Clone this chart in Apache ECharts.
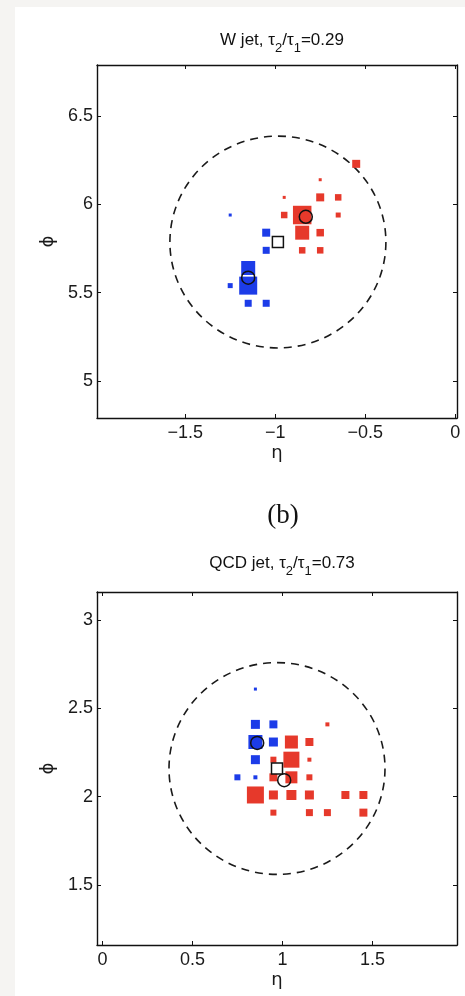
<!DOCTYPE html>
<html>
<head>
<meta charset="utf-8">
<script src="https://cdn.jsdelivr.net/npm/echarts@6/dist/echarts.min.js"></script>
<style>
body { margin: 0; }
#main { width: 465px; height: 996px; }
</style>
</head>
<body>
<div id="main"></div>
<script>
// W jet (top panel)
var wRedEta = [-0.55, -0.75, -0.75, -0.65, -0.95, -0.85, -0.95, -0.65, -0.85, -0.75, -0.85, -0.75];
var wRedPhi = [6.23, 6.14, 6.04, 6.04, 6.04, 5.94, 5.94, 5.94, 5.84, 5.84, 5.74, 5.74];
var wRedPt  = [16, 6, 16, 13, 6, 37, 13, 10, 28, 15, 13, 13];
var wBlueEta = [-1.25, -1.05, -1.05, -1.15, -1.15, -1.25, -1.15, -1.05];
var wBluePhi = [5.94, 5.84, 5.74, 5.64, 5.54, 5.54, 5.44, 5.44];
var wBluePt  = [6, 16, 14, 28, 36, 10, 14, 14];
var wSubEta = [-0.83, -1.15];
var wSubPhi = [5.93, 5.585];
var wJetEta = [-0.985];
var wJetPhi = [5.787];

// QCD jet (bottom panel)
var qRedEta = [1.25, 1.05, 1.15, 1.05, 0.95, 1.15, 1.05, 0.95, 1.15, 0.85, 0.95, 1.05, 1.15, 1.35, 1.45, 0.95, 1.15, 1.25, 1.45];
var qRedPhi = [2.41, 2.31, 2.31, 2.21, 2.21, 2.21, 2.11, 2.11, 2.11, 2.01, 2.01, 2.01, 2.01, 2.01, 2.01, 1.91, 1.91, 1.91, 1.91];
var qRedPt  = [8, 26, 16, 32, 12, 8, 24, 16, 12, 34, 18, 20, 18, 16, 16, 12, 14, 14, 16];
var qBlueEta = [0.85, 0.85, 0.95, 0.85, 0.95, 0.85, 0.75, 0.85];
var qBluePhi = [2.61, 2.41, 2.41, 2.31, 2.31, 2.21, 2.11, 2.11];
var qBluePt  = [6, 18, 16, 28, 18, 18, 12, 8];
var qSubEta = [0.86, 1.01];
var qSubPhi = [2.305, 2.094];
var qJetEta = [0.97];
var qJetPhi = [2.16];

var jetR = 0.6;
var wTicksX = [-1.5, -1, -0.5, 0];
var wTicksY = [5, 5.5, 6, 6.5];
var qTicksX = [0, 0.5, 1, 1.5];
var qTicksY = [1.5, 2, 2.5, 3];

var dom = document.getElementById("main");
var myChart = echarts.init(dom);
var option = null;

function pts(eta, phi, pt) {
    var out = [];
    for (var i = 0; i < eta.length; i++) {
        out.push(pt ? [eta[i], phi[i], pt[i]] : [eta[i], phi[i]]);
    }
    return out;
}

function fmt(v) {
    return String(v).replace('-', '\u2212');
}

function axis(dim, grid, pos, min, max, ticks, main, name) {
    var a = {
        type: 'value',
        gridIndex: grid,
        position: pos,
        min: min,
        max: max,
        axisLine: { show: true, onZero: false, lineStyle: { color: '#111', width: 1.4 } },
        axisTick: { show: true, inside: true, length: 4, customValues: ticks, lineStyle: { color: '#111', width: 1 } },
        axisLabel: {
            show: main,
            customValues: ticks,
            formatter: fmt,
            margin: dim === 'x' ? 6 : 4,
            fontSize: 18,
            color: '#1a1a1a',
            fontFamily: 'Liberation Sans'
        },
        splitLine: { show: false }
    };
    if (main) {
        a.name = name;
        a.nameLocation = 'middle';
        a.nameGap = dim === 'x' ? 26 : 37;
        a.nameTextStyle = { fontSize: 18, color: '#1a1a1a', fontFamily: 'DejaVu Sans' };
    }
    return a;
}

function squares(x, y, data, color) {
    return {
        type: 'scatter',
        xAxisIndex: x,
        yAxisIndex: y,
        symbol: 'rect',
        symbolSize: function (v) { return v[2] * 0.5; },
        itemStyle: { color: color, opacity: 1 },
        data: data,
        silent: true
    };
}

function ring(x, y, cx, cy) {
    return {
        type: 'custom',
        xAxisIndex: x,
        yAxisIndex: y,
        silent: true,
        data: [[cx, cy, jetR]],
        renderItem: function (params, api) {
            var c = api.coord([api.value(0), api.value(1)]);
            var s = api.size([api.value(2), api.value(2)]);
            return {
                type: 'ellipse',
                shape: { cx: c[0], cy: c[1], rx: s[0], ry: s[1] },
                style: { fill: null, stroke: '#1a1a1a', lineWidth: 1.6, lineDash: [8, 6] }
            };
        }
    };
}

function markers(x, y, data, symbol, size, fill) {
    return {
        type: 'scatter',
        xAxisIndex: x,
        yAxisIndex: y,
        symbol: symbol,
        symbolSize: size,
        itemStyle: { color: fill, borderColor: '#111', borderWidth: 1.5, opacity: 1 },
        data: data,
        silent: true
    };
}

var red = '#e6392b';
var blue = '#1c3ce8';

var titleRich = {
    a: { fontSize: 17, fontWeight: 'normal', lineHeight: 20, verticalAlign: 'top', color: '#111', fontFamily: 'Liberation Sans' },
    s: { fontSize: 13, fontWeight: 'normal', lineHeight: 14, padding: [10, 0, 0, 0], verticalAlign: 'top', color: '#111', fontFamily: 'Liberation Sans' }
};

option = {
    backgroundColor: '#f5f4f2',
    animation: false,
    graphic: [
        { type: 'rect', left: 15, top: 7, shape: { width: 450, height: 989 }, style: { fill: '#ffffff' }, z: -10 }
    ],
    title: [
        {
            text: '{a|W jet, τ}{s|2}{a|/τ}{s|1}{a|=0.29}',
            left: 277, top: 27, textAlign: 'center',
            textStyle: { fontWeight: 'normal', rich: titleRich }
        },
        {
            text: '(b)',
            left: 278, top: 497, textAlign: 'center',
            textStyle: { fontSize: 27, fontWeight: 'normal', color: '#111', fontFamily: 'Liberation Serif' }
        },
        {
            text: '{a|QCD jet, τ}{s|2}{a|/τ}{s|1}{a|=0.73}',
            left: 277, top: 550, textAlign: 'center',
            textStyle: { fontWeight: 'normal', rich: titleRich }
        }
    ],
    grid: [
        { left: 97, top: 65, width: 360, height: 353 },
        { left: 97, top: 592, width: 360, height: 353 }
    ],
    xAxis: [
        axis('x', 0, 'bottom', -1.99, 0.01, wTicksX, true, 'η'),
        axis('x', 0, 'top', -1.99, 0.01, wTicksX, false),
        axis('x', 1, 'bottom', -0.03, 1.97, qTicksX, true, 'η'),
        axis('x', 1, 'top', -0.03, 1.97, qTicksX, false)
    ],
    yAxis: [
        axis('y', 0, 'left', 4.79, 6.79, wTicksY, true, 'ϕ'),
        axis('y', 0, 'right', 4.79, 6.79, wTicksY, false),
        axis('y', 1, 'left', 1.16, 3.16, qTicksY, true, 'ϕ'),
        axis('y', 1, 'right', 1.16, 3.16, qTicksY, false)
    ],
    series: [
        ring(0, 0, wJetEta[0], wJetPhi[0]),
        squares(0, 0, pts(wRedEta, wRedPhi, wRedPt), red),
        squares(0, 0, pts(wBlueEta, wBluePhi, wBluePt), blue),
        markers(0, 0, pts(wSubEta, wSubPhi), 'circle', 13, 'rgba(0,0,0,0)'),
        markers(0, 0, pts(wJetEta, wJetPhi), 'rect', 11, '#ffffff'),

        ring(2, 2, qJetEta[0], qJetPhi[0]),
        squares(2, 2, pts(qRedEta, qRedPhi, qRedPt), red),
        squares(2, 2, pts(qBlueEta, qBluePhi, qBluePt), blue),
        markers(2, 2, pts(qSubEta, qSubPhi), 'circle', 13, 'rgba(0,0,0,0)'),
        markers(2, 2, pts(qJetEta, qJetPhi), 'rect', 11, '#ffffff')
    ]
};

if (option && typeof option === "object") {
    myChart.setOption(option, true);
}
</script>
</body>
</html>
